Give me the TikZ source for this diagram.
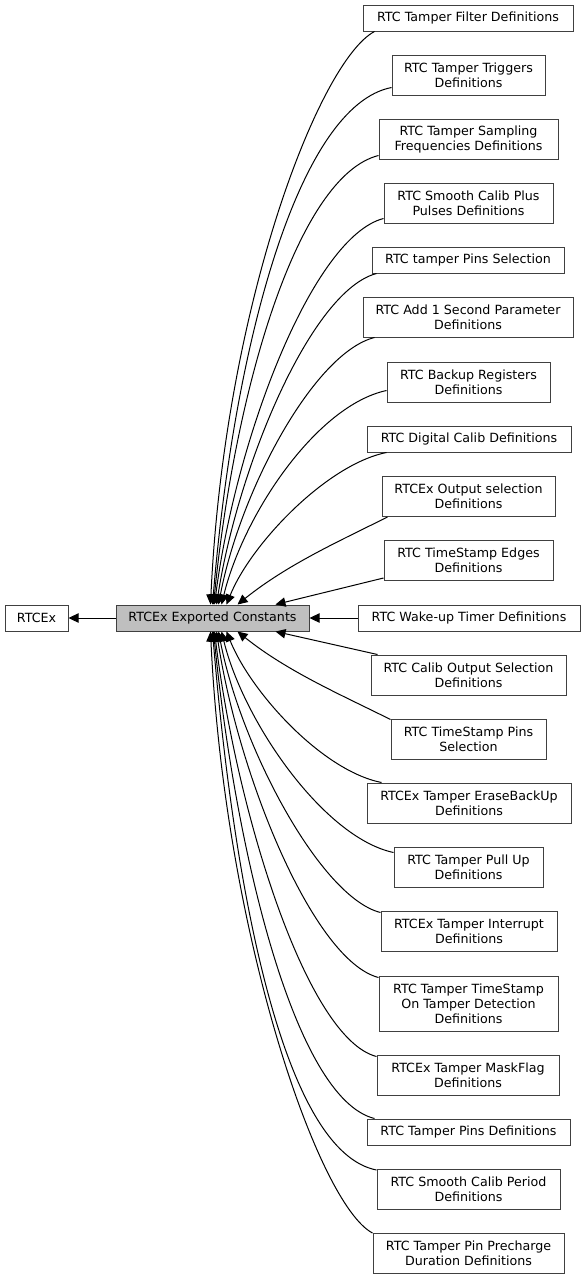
\documentclass[tikz,border=0pt]{standalone}
\usepackage{fontspec}
\setmainfont{DejaVu Sans}
\usetikzlibrary{arrows.meta,calc}
\definecolor{boxborder}{RGB}{64,64,64}
\definecolor{mainfill}{RGB}{191,191,191}
\tikzset{
  box/.style={draw=boxborder, fill=white, line width=0.75pt, inner sep=0pt, align=center,
    font=\fontsize{9.5}{11.25}\selectfont},
  sz/.style 2 args={minimum width=#1*0.75pt, minimum height=#2*0.75pt},
  conn/.style={draw=black, line width=0.75pt, -{Triangle[length=7.5pt,width=7pt]}}
}
\begin{document}
\begin{tikzpicture}[x=0.75pt,y=-0.75pt]
\useasboundingbox (0,0) rectangle (585,1279);
\node[box,sz={63}{26}] (rtc) at (36.5,618) {RTCEx};
\node[box,sz={193}{26},fill=mainfill] (m) at (212.5,618) {RTCEx Exported Constants};
\node[box,sz={210}{26}] (n1) at (468,18) {RTC Tamper Filter Definitions};
\node[box,sz={153}{40}] (n2) at (468.5,75) {RTC Tamper Triggers\\Definitions};
\node[box,sz={179}{40}] (n3) at (468.5,139) {RTC Tamper Sampling\\Frequencies Definitions};
\node[box,sz={169}{40}] (n4) at (468.5,203) {RTC Smooth Calib Plus\\Pulses Definitions};
\node[box,sz={192}{26}] (n5) at (468,260) {RTC tamper Pins Selection};
\node[box,sz={210}{40}] (n6) at (468,317) {RTC Add 1 Second Parameter\\Definitions};
\node[box,sz={163}{40}] (n7) at (468.5,382) {RTC Backup Registers\\Definitions};
\node[box,sz={204}{26}] (n8) at (469,439) {RTC Digital Calib Definitions};
\node[box,sz={173}{40}] (n9) at (468.5,496.5) {RTCEx Output selection\\Definitions};
\node[box,sz={169}{40}] (n10) at (468.5,560.5) {RTC TimeStamp Edges\\Definitions};
\node[box,sz={222}{26}] (n11) at (469,618) {RTC Wake-up Timer Definitions};
\node[box,sz={195}{40}] (n12) at (468.5,675) {RTC Calib Output Selection\\Definitions};
\node[box,sz={155}{40}] (n13) at (468.5,739) {RTC TimeStamp Pins\\Selection};
\node[box,sz={204}{40}] (n14) at (469,803) {RTCEx Tamper EraseBackUp\\Definitions};
\node[box,sz={149}{40}] (n15) at (468.5,867) {RTC Tamper Pull Up\\Definitions};
\node[box,sz={176}{40}] (n16) at (469,931) {RTCEx Tamper Interrupt\\Definitions};
\node[box,sz={179}{55}] (n17) at (468.5,1003.5) {RTC Tamper TimeStamp\\On Tamper Detection\\Definitions};
\node[box,sz={182}{40}] (n18) at (468,1075) {RTCEx Tamper MaskFlag\\Definitions};
\node[box,sz={203}{26}] (n19) at (468.5,1132) {RTC Tamper Pins Definitions};
\node[box,sz={183}{40}] (n20) at (468.5,1189.5) {RTC Smooth Calib Period\\Definitions};
\node[box,sz={191}{40}] (n21) at (468.5,1253.5) {RTC Tamper Pin Precharge\\Duration Definitions};

\draw[conn] (m.west) -- (rtc.east);
% upper edges
\draw[conn] ($(n1.south west)+(12,0)$) .. controls +(-55,29) and +(14,-300) .. ($(m.north west)+(95,0)$);
\draw[conn] ($(n2.south west)+(0,-8)$) .. controls +(-92,18) and +(22,-265) .. ($(m.north west)+(97,0)$);
\draw[conn] ($(n3.south west)+(0,-4)$) .. controls +(-80,20) and +(22,-220) .. ($(m.north west)+(98,0)$);
\draw[conn] ($(n4.south west)+(0,-5)$) .. controls +(-70,18) and +(22,-170) .. ($(m.north west)+(99,0)$);
\draw[conn] ($(n5.south west)+(5,0)$) .. controls +(-65,17) and +(22,-140) .. ($(m.north west)+(101,0)$);
\draw[conn] ($(n6.south west)+(12,0)$) .. controls +(-60,15) and +(22,-115) .. ($(m.north west)+(103,0)$);
\draw[conn] ($(n7.south west)+(0,-12)$) .. controls +(-70,15) and +(22,-90) .. ($(m.north west)+(106,0)$);
\draw[conn] ($(n8.south west)+(20,0)$) .. controls +(-60,12) and +(24,-60) .. ($(m.north west)+(111,0)$);
\draw[conn] ($(n9.south west)+(6,0)$) .. controls +(-50,25) and +(50,-40) .. ($(m.north west)+(122,0)$);
\draw[conn] ($(n10.south west)+(0,-3)$) -- ($(m.north west)+(160,0)$);
\draw[conn] (n11.west) -- (m.east);
% lower edges
\draw[conn] ($(n12.north west)+(7,0)$) -- ($(m.south west)+(160,0)$);
\draw[conn] ($(n13.north west)+(0,1)$) .. controls +(-50,-25) and +(50,40) .. ($(m.south west)+(122,0)$);
\draw[conn] ($(n14.north west)+(15,0)$) .. controls +(-60,-12) and +(24,60) .. ($(m.south west)+(111,0)$);
\draw[conn] ($(n15.north west)+(0,6)$) .. controls +(-70,-15) and +(22,90) .. ($(m.south west)+(106,0)$);
\draw[conn] ($(n16.north west)+(0,2)$) .. controls +(-60,-15) and +(22,115) .. ($(m.south west)+(103,0)$);
\draw[conn] ($(n17.north west)+(0,2)$) .. controls +(-65,-17) and +(22,145) .. ($(m.south west)+(101,0)$);
\draw[conn] ($(n18.north west)+(0,2)$) .. controls +(-70,-18) and +(22,180) .. ($(m.south west)+(99,0)$);
\draw[conn] ($(n19.north west)+(8,0)$) .. controls +(-80,-20) and +(22,220) .. ($(m.south west)+(98,0)$);
\draw[conn] ($(n20.north west)+(0,1)$) .. controls +(-92,-18) and +(22,265) .. ($(m.south west)+(97,0)$);
\draw[conn] ($(n21.north west)+(0,0)$) .. controls +(-55,-29) and +(14,300) .. ($(m.south west)+(95,0)$);
\end{tikzpicture}
\end{document}
